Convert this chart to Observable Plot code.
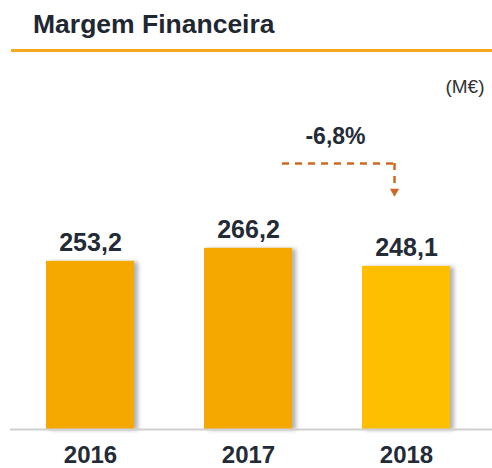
<!DOCTYPE html>
<html>
<head>
<meta charset="utf-8">
<script src="https://cdn.jsdelivr.net/npm/d3@7"></script>
<script src="https://cdn.jsdelivr.net/npm/@observablehq/plot@0.6"></script>
<style>
  html, body { margin: 0; padding: 0; background: #fff; }
  #wrap { width: 492px; height: 468px; position: relative; overflow: hidden; }
  #title {
    margin-left: 11px;
    padding-left: 22px;
    padding-top: 10.5px;
    height: 38.5px;
    line-height: 27px;
    border-bottom: 3px solid #F6A821;
    font-family: "Liberation Sans", Arial, sans-serif;
    font-weight: bold;
    font-size: 26.5px;
    color: #1f2733;
    box-sizing: content-box;
  }
  #chart svg { display: block; }
</style>
</head>
<body>
<div id="wrap">
  <div id="title"></div>
  <div id="chart"></div>
</div>
<script>
const titleText = "Margem Financeira";
const unitLabel = "(M€)";
const years = ["2016", "2017", "2018"];
const values = [253.2, 266.2, 248.1];
const valueLabels = ["253,2", "266,2", "248,1"];
const changes = [{from: "2017", to: "2018", label: "-6,8%"}];

document.getElementById("title").textContent = titleText;

const data = years.map((year, i) => ({year, value: values[i], label: valueLabels[i]}));
const dark = "#232b36";
const accent = "#D0681F";

const chart = Plot.plot({
  width: 492,
  height: 416,
  marginTop: 0,
  marginBottom: 39,
  marginLeft: 10,
  marginRight: 6,
  style: {fontFamily: "'Liberation Sans', Arial, sans-serif", background: "white"},
  x: {domain: years, paddingInner: 0.44, paddingOuter: 0.22},
  y: {domain: [85, 462], axis: null},
  color: {domain: years, range: ["#F5A800", "#F5A800", "#FDBF00"]},
  marks: [
    Plot.barY(data, {x: "year", y1: 85, y2: "value", fill: "year"}),
    Plot.ruleY([85], {stroke: "#d0d0d0", strokeWidth: 2, insetRight: -6}),
    Plot.text(data, {x: "year", y: "value", text: "label", lineAnchor: "bottom", dy: -10,
      fontSize: 25, fontWeight: "bold", fill: dark}),
    Plot.axisX({tickSize: 0, tickPadding: 16, fontSize: 24, fontWeight: "bold", color: dark, label: null}),
    Plot.text([unitLabel], {text: d => d, frameAnchor: "top-right", dy: 27, dx: -2,
      fontSize: 19, fill: "#333"}),
    Plot.text(changes, {x: "to", y: 371, text: "label", lineAnchor: "bottom", dx: -71,
      fontSize: 23, fontWeight: "bold", fill: dark}),
    Plot.ruleY(changes, {y: 351, x1: "from", x2: "to", insetLeft: 78, insetRight: 56,
      stroke: accent, strokeWidth: 2.5, strokeDasharray: "7,6"}),
    Plot.ruleX(changes, {x: "to", y1: 351, y2: 330, dx: -12,
      stroke: accent, strokeWidth: 2.5, strokeDasharray: "7,6"}),
    Plot.dot(changes, {x: "to", y: 323, dx: -12, symbol: "triangle", rotate: 180, r: 3.4,
      fill: accent, stroke: "none"})
  ]
});

d3.select(chart).selectAll("g[aria-label='bar'] rect")
  .style("filter", "drop-shadow(4px 1px 2px rgba(0,0,0,0.3))");

document.getElementById("chart").appendChild(chart);
</script>
</body>
</html>
